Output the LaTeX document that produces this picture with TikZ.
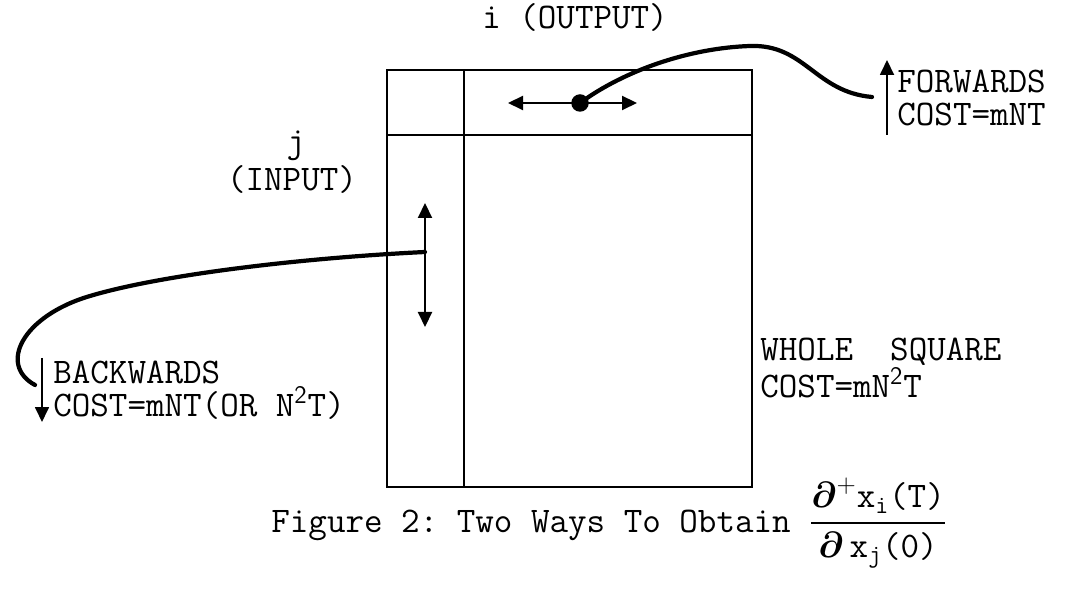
\documentclass[tikz,border=0pt]{standalone}
\usepackage{amsmath}
\usepackage{fontspec}
\usetikzlibrary{arrows.meta,positioning}
\frenchspacing

\begin{document}
\begin{tikzpicture}[x=0.02cm,y=-0.02cm]
\tikzset{
  lbl/.style={font=\ttfamily\fontsize{20.5}{19}\selectfont,inner sep=0pt,align=left},
  box/.style={line width=1.1pt},
  sweep/.style={{Triangle[length=3mm,width=2.8mm]}-{Triangle[length=3mm,width=2.8mm]},line width=1.2pt},
  costarrow/.style={-{Triangle[length=3mm,width=2.8mm]},line width=1pt},
  curve/.style={line width=2.4pt,line cap=round}
}
\useasboundingbox (0,0) rectangle (1071,590);
% the square
\draw[box] (387,70) rectangle (752,487);
\draw[box] (387,135) -- (752,135);
\draw[box] (464,70) -- (464,487);
% row sweep (forwards)
\coordinate (row_w) at (508,103);
\coordinate (row_e) at (637,103);
\node[circle,fill,inner sep=0pt,minimum size=3.5mm] (dot_i) at (580,103) {};
\draw[sweep] (row_w) -- (row_e);
\coordinate (fwd_end) at (872,97);
\coordinate (fwd_foot) at (887,135);
\coordinate (fwd_tip) at (887,60);
\draw[curve] (dot_i.center) .. controls (625,70) and (690,48) .. (750,46)
  .. controls (805,44) and (815,92) .. (fwd_end);
\draw[costarrow] (fwd_foot) -- (fwd_tip);
% column sweep (backwards)
\coordinate (col_n) at (425,203);
\coordinate (col_s) at (425,327);
\coordinate (col_j) at (425,252);
\draw[sweep] (col_n) -- (col_s);
\coordinate (bwd_end) at (35,385);
\coordinate (bwd_foot) at (42,358);
\coordinate (bwd_tip) at (42,422);
\draw[curve] (col_j) .. controls (300,258) and (160,275) .. (90,296)
  .. controls (22,316) and (-2,365) .. (bwd_end);
\draw[costarrow] (bwd_foot) -- (bwd_tip);
% labels
\node[lbl] (out_lbl) at (575,18) {i (OUTPUT)};
\node[lbl] (j_lbl) at (296,146) {j};
\node[lbl] (in_lbl) at (292,180) {(INPUT)};
\node[lbl,anchor=west] (fwd_lbl) at (897,98) {FORWARDS\\COST=mNT};
\node[lbl,anchor=west] (bwd_lbl) at (53,390) {BACKWARDS\\COST=mNT(OR N\textsuperscript{\sffamily 2}T)};
\node[lbl,anchor=west] (whole_lbl) at (760,368) {WHOLE~~SQUARE\\COST=mN\textsuperscript{\sffamily 2}T};
\node[lbl,anchor=west] (cap) at (271,523) {Figure 2: Two Ways To Obtain
  $\dfrac{\boldsymbol{\partial}^{+}\text{x}_{\text{i}}\text{(T)}}{\boldsymbol{\partial}\,\text{x}_{\text{j}}\text{(0)}}$};
\end{tikzpicture}
\end{document}
